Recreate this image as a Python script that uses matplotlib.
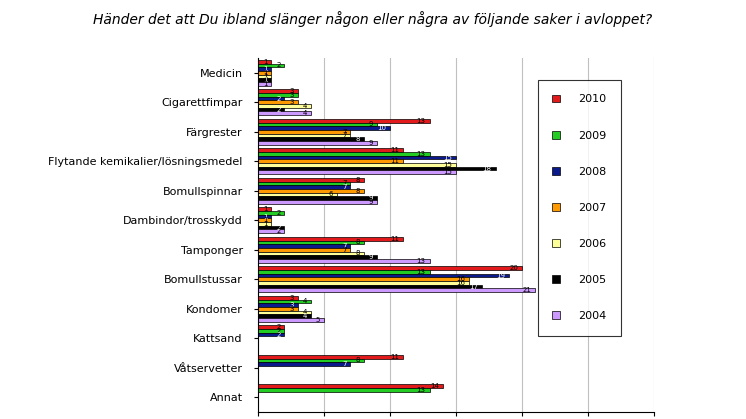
import matplotlib
matplotlib.use("Agg")
import matplotlib.pyplot as plt
import numpy as np

categories = ["Medicin", "Cigarettfimpar", "Färgrester", "Flytande kemikalier/lösningsmedel",
              "Bomullspinnar", "Dambindor/trosskydd", "Tamponger", "Bomullstussar",
              "Kondomer", "Kattsand", "Våtservetter", "Annat"]
years = ["2010", "2009", "2008", "2007", "2006", "2005", "2004"]
colors = ["#e31a1c", "#22cc22", "#0a1a8a", "#ff9900", "#ffff99", "#000000", "#cc99ff"]
N = None
v2010 = [1, 3, 13, 11, 8, 1, 11, 20, 3, 2, 11, 14]
v2009 = [2, 3, 9, 13, 7, 2, 8, 13, 4, 2, 8, 13]
v2008 = [1, 2, 10, 15, 7, 1, 7, 19, 3, 2, 7, N]
v2007 = [1, 3, 7, 11, 8, 1, 7, 16, 3, N, N, N]
v2006 = [1, 4, 7, 15, 6, 1, 8, 16, 4, N, N, N]
v2005 = [1, 2, 8, 18, 9, 2, 9, 17, 4, N, N, N]
v2004 = [1, 4, 9, 15, 9, 2, 13, 21, 5, N, N, N]
series = [v2010, v2009, v2008, v2007, v2006, v2005, v2004]

fig = plt.figure(figsize=(7.46, 4.19), dpi=100)
ax = fig.add_axes([258/746, 1-412/419, 396/746, 354/419])
fig.text(0.5, 0.955, "Händer det att Du ibland slänger någon eller några av följande saker i avloppet?",
         ha="center", va="center", fontsize=10, style="italic")

bh = 1/8.0
for j, (yr, vals, c) in enumerate(zip(years, series, colors)):
    ys = []; xs = []
    for i, v in enumerate(vals):
        if v is None:
            continue
        ys.append(i + (j - 3) * bh); xs.append(v)
    ax.barh(ys, xs, height=bh, color=c, edgecolor="black", linewidth=0.5, label=yr)
    for y, x in zip(ys, xs):
        ax.text(x - 0.3, y, str(x), ha="right", va="center", fontsize=5,
                color="white" if c in ("#0a1a8a", "#000000") else "black")

ax.set_ylim(len(categories) - 0.5, -0.5)
ax.set_xlim(0, 30)
ax.set_xticks(range(0, 31, 5))
ax.set_xticklabels([])
ax.set_yticks(range(len(categories)))
ax.set_yticklabels(categories, fontsize=8)
ax.grid(axis="x", color="#c0c0c0", linewidth=0.8)
ax.set_axisbelow(True)
for s in ["top", "right"]:
    ax.spines[s].set_visible(False)
ax.tick_params(axis="y", length=3, pad=8)
ax.tick_params(axis="x", length=3)

leg = ax.legend(loc="upper left", bbox_to_anchor=((538-258)/396, 1-(80-58)/354),
                fontsize=8, frameon=True, fancybox=False, edgecolor="black",
                labelspacing=2.35, handlelength=0.7, handleheight=0.7, borderpad=1.3,
                handletextpad=1.6, borderaxespad=0)
leg.get_frame().set_linewidth(0.8)
fig.savefig("out.png", dpi=100)
